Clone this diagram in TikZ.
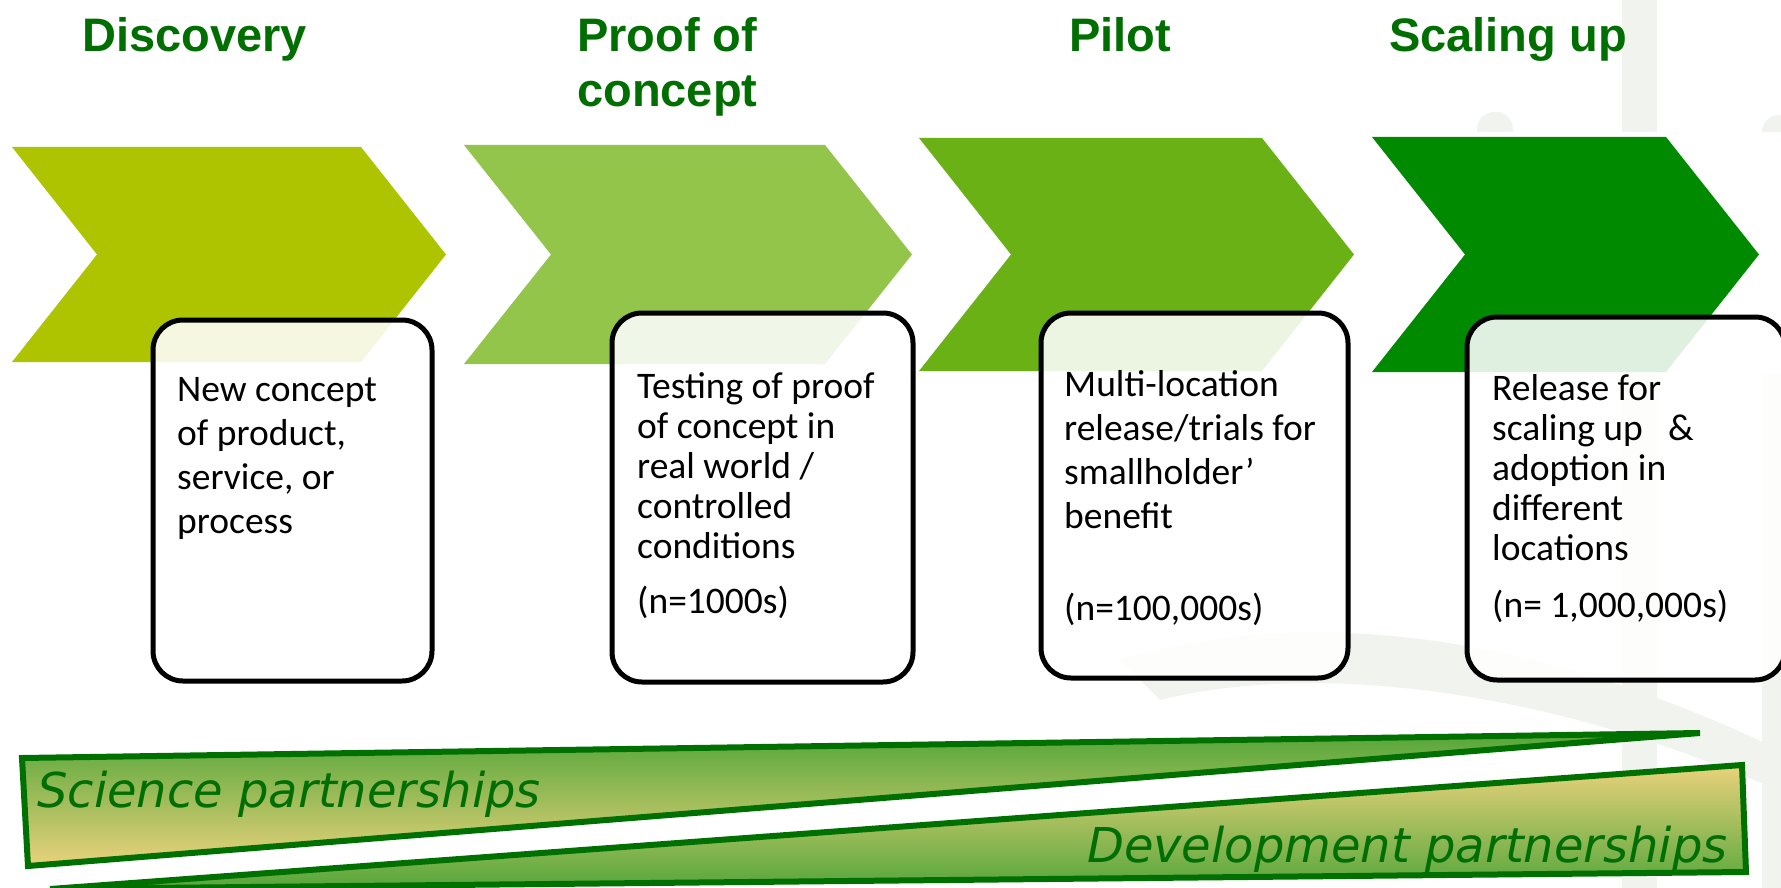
\documentclass[tikz,border=0pt]{standalone}
\usepackage{fontspec}
\setmainfont{Carlito}
\newfontfamily\headfont{Liberation Sans}
\newfontfamily\bandfont{DejaVu Sans}
\usetikzlibrary{positioning, calc}

\definecolor{discovery}{RGB}{174,196,0}
\definecolor{proof}{RGB}{146,197,74}
\definecolor{pilot}{RGB}{106,177,22}
\definecolor{scaling}{RGB}{0,138,0}
\definecolor{headgreen}{RGB}{0,110,0}
\definecolor{bandline}{RGB}{0,112,0}
\definecolor{bandgreen}{RGB}{84,166,58}
\definecolor{bandtan}{RGB}{234,210,124}
\definecolor{wmark}{RGB}{240,243,238}

\begin{document}
\begin{tikzpicture}[x=1pt, y=-1pt,
    heading/.style={anchor=base west, align=left, inner sep=0pt, text=headgreen,
        font={\headfont\bfseries\fontsize{47}{55}\selectfont}},
    stagebox/.style={draw=black, line width=5pt, rounded corners=30pt, fill=white,
        fill opacity=0.88, anchor=north west, inner sep=0pt},
    boxtext/.style={anchor=base west, align=left, inner sep=0pt,
        font={\fontsize{37.5}{#1}\selectfont}},
    band/.style={draw=bandline, line width=6pt},
    bandtext/.style={text=headgreen, inner sep=0pt,
        font={\bandfont\itshape\fontsize{48}{56}\selectfont}}]

    \useasboundingbox (0,0) rectangle (1781,888);
    \clip (0,0) rectangle (1781,888);

    % faint logo in the background
    \fill[wmark, rounded corners=17pt] (1622,-30) rectangle (1657,920);
    \fill[wmark, rounded corners=17pt] (1477,112) rectangle (1513,300);
    \fill[wmark, rounded corners=17pt] (1762,115) rectangle (1810,920);
    \fill[wmark] (1120,660) .. controls (1320,600) and (1560,640) .. (1800,760)
        -- (1800,800) .. controls (1560,690) and (1320,660) .. (1160,700) -- cycle;
    \fill[white] (0,132) rectangle (1781,374);

    % chevrons
    \fill[discovery] (12,147) -- (361,147) -- (446,254.5) -- (361,362) -- (12,362) -- (97,254.5) -- cycle;
    \fill[proof] (464,145) -- (825,145) -- (912,254.5) -- (825,364) -- (464,364) -- (551,254.5) -- cycle;
    \fill[pilot] (919,138) -- (1262,138) -- (1354,254.5) -- (1262,371) -- (919,371) -- (1011,254.5) -- cycle;
    \fill[scaling] (1372,137) -- (1666,137) -- (1759,254.5) -- (1666,372) -- (1372,372) -- (1465,254.5) -- cycle;

    % stage names (base = last line)
    \node[heading] (disc) at (82,52) {Discovery};
    \node[heading] (proof) at (577,107) {Proof of\\concept};
    \node[heading] (pilot) at (1069,52) {Pilot};
    \node[heading] (scale) at (1389,52) {Scaling up};

    % boxes
    \node[stagebox, minimum width=279pt, minimum height=361pt] (discbox) at (150.5,317.5) {};
    \node[stagebox, minimum width=301pt, minimum height=369pt] (proofbox) at (609.5,310.5) {};
    \node[stagebox, minimum width=307pt, minimum height=365pt] (pilotbox) at (1038.5,310.5) {};
    \node[stagebox, minimum width=318pt, minimum height=363pt] (scalebox) at (1464.5,314.5) {};

    \node[boxtext=44pt] (disctext) at (177,533) {New concept\\of product,\\service, or\\process};
    \node[boxtext=40pt] (prooftext) at (637,613)
        {Testing of proof\\of concept in\\real world /\\controlled\\conditions\\[15pt](n=1000s)};
    \node[boxtext=44pt] (pilottext) at (1064,620)
        {Multi-location\\release/trials for\\smallholder’\\benefit\\[48pt](n=100,000s)};
    \node[boxtext=40pt] (scaletext) at (1492,617)
        {Release for\\scaling up\ \ \ \&\\adoption in\\different\\locations\\[17pt](n= 1,000,000s)};

    % partnerships
    \path[band, top color=bandgreen, bottom color=bandtan] (22,758) -- (1700,733) -- (28,866) -- cycle;
    \path[band, top color=bandtan, bottom color=bandgreen] (50,889) -- (1742,765) -- (1746,872) -- cycle;

    \node[bandtext, anchor=base west] (science) at (37,807) {Science partnerships};
    \node[bandtext, anchor=base east] (development) at (1728,862) {Development partnerships};
\end{tikzpicture}
\end{document}
